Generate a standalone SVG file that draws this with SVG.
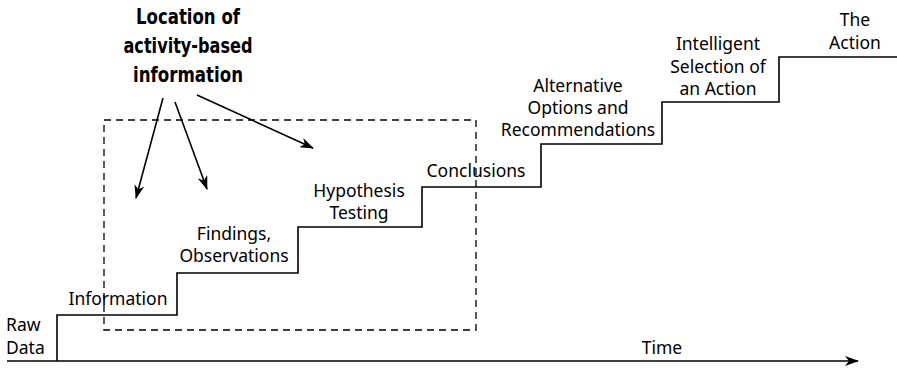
<svg xmlns="http://www.w3.org/2000/svg" width="897" height="370" viewBox="0 0 897 370">
<defs>
<marker id="ah" markerWidth="14" markerHeight="10" refX="13" refY="5" orient="auto" markerUnits="userSpaceOnUse">
<path d="M0,0 L14,5 L0,10 L4,5 Z" fill="#000"/>
</marker>
</defs>
<style>
.lbl{font-family:"Noto Sans","Open Sans","DejaVu Sans",sans-serif;font-size:17.5px;fill:#000;text-anchor:middle}
.ttl{font-family:"DejaVu Sans Condensed","DejaVu Sans",sans-serif;font-stretch:condensed;font-weight:bold;font-size:21px;fill:#000;text-anchor:middle}
.ln{fill:none;stroke:#000;stroke-width:1.6}
.dash{fill:none;stroke:#000;stroke-width:1.3;stroke-dasharray:7,5}
</style>
<rect width="897" height="370" fill="#fff"/>
<g id="box"><rect class="dash" x="104" y="120" width="372" height="210"/></g>
<g id="connectors">
<path class="ln" d="M57,361 V315 H177 V273 H298 V227 H422 V187 H541 V144 H662 V102 H779 V57 H897"/>
<line class="ln" x1="7" y1="361" x2="858" y2="361" marker-end="url(#ah)"/>
<line class="ln" x1="163" y1="98" x2="136" y2="198" marker-end="url(#ah)"/>
<line class="ln" x1="175" y1="102" x2="207" y2="189" marker-end="url(#ah)"/>
<line class="ln" x1="197" y1="95" x2="313" y2="148" marker-end="url(#ah)"/>
</g>
<g id="title">
<text class="ttl" x="188" y="24" textLength="104" lengthAdjust="spacingAndGlyphs">Location of</text>
<text class="ttl" x="188" y="53" textLength="129" lengthAdjust="spacingAndGlyphs">activity-based</text>
<text class="ttl" x="188" y="82" textLength="110" lengthAdjust="spacingAndGlyphs">information</text>
</g>
<g id="raw"><text class="lbl" style="text-anchor:start" x="6" y="331">Raw</text><text class="lbl" style="text-anchor:start" x="6" y="354">Data</text></g>
<g id="information"><text class="lbl" x="118" y="305">Information</text></g>
<g id="findings"><text class="lbl" x="234" y="240">Findings,</text><text class="lbl" x="234" y="262">Observations</text></g>
<g id="hypothesis"><text class="lbl" x="359" y="197">Hypothesis</text><text class="lbl" x="359" y="219">Testing</text></g>
<g id="conclusions"><text class="lbl" x="476" y="177">Conclusions</text></g>
<g id="alternative"><text class="lbl" x="578" y="92">Alternative</text><text class="lbl" x="578" y="114">Options and</text><text class="lbl" x="578" y="136">Recommendations</text></g>
<g id="selection"><text class="lbl" x="718" y="50">Intelligent</text><text class="lbl" x="718" y="73">Selection of</text><text class="lbl" x="718" y="95">an Action</text></g>
<g id="action"><text class="lbl" x="855" y="26">The</text><text class="lbl" x="855" y="49">Action</text></g>
<g id="time"><text class="lbl" x="662" y="354">Time</text></g>
</svg>
